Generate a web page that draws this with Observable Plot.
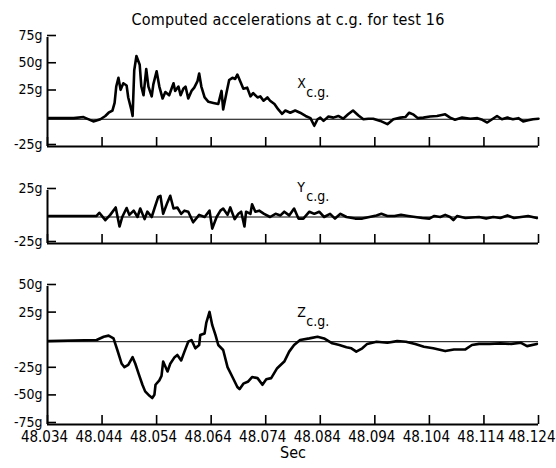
<!DOCTYPE html>
<html><head><meta charset="utf-8">
<script src="https://cdn.jsdelivr.net/npm/d3@7"></script>
<script src="https://cdn.jsdelivr.net/npm/@observablehq/plot@0.6"></script>
<style>
body{margin:0;background:#fff;}
#chart{position:relative;width:556px;height:468px;font-family:"DejaVu Sans Condensed","Liberation Sans Narrow",sans-serif;color:#000;}
#title{position:absolute;left:10px;width:556px;top:10px;text-align:center;font-size:16px;line-height:20px;letter-spacing:0.2px;}
.panel{position:absolute;left:0;}
</style></head><body>
<div id="chart"><div id="title">Computed accelerations at c.g. for test 16</div></div>
<script>
const FONT = '"DejaVu Sans Condensed","Liberation Sans Narrow",sans-serif';
const timeTicks = [48.034, 48.044, 48.054, 48.064, 48.074, 48.084, 48.094, 48.104, 48.114, 48.124];
const xTicksG = [75, 50, 25, -25];
const yTicksG = [25, -25];
const zTicksG = [50, 25, -25, -50, -75];

const xTime = [
48.0342,48.0388,48.0406,48.0424,48.0437,48.0446,48.0452,48.0459,48.0463,48.0466,
48.0470,48.0474,48.0479,48.0485,48.0488,48.0494,48.0496,48.0499,48.0503,48.0509,
48.0512,48.0516,48.0521,48.0525,48.0531,48.0534,48.0540,48.0545,48.0551,48.0556,
48.0563,48.0571,48.0574,48.0580,48.0584,48.0589,48.0593,48.0598,48.0604,48.0609,
48.0615,48.0618,48.0622,48.0628,48.0635,48.0644,48.0653,48.0659,48.0662,48.0668,
48.0673,48.0679,48.0684,48.0688,48.0694,48.0699,48.0706,48.0712,48.0717,48.0725,
48.0730,48.0736,48.0743,48.0748,48.0756,48.0763,48.0770,48.0776,48.0785,48.0794,
48.0803,48.0813,48.0822,48.0829,48.0835,48.0840,48.0846,48.0855,48.0864,48.0873,
48.0882,48.0891,48.0900,48.0910,48.0919,48.0928,48.0937,48.0950,48.0963,48.0974,
48.0987,48.0996,48.1003,48.1010,48.1019,48.1029,48.1041,48.1054,48.1069,48.1078,
48.1087,48.1100,48.1115,48.1128,48.1137,48.1146,48.1155,48.1164,48.1173,48.1183,
48.1193,48.1203,48.1212,48.1221,48.1230,48.1240];
const xAccel = [
1,1,2,-2,0,3,6,8,15,30,
38,27,33,31,20,8,3,45,58,50,
30,22,46,30,21,32,44,30,19,25,
22,33,26,30,22,28,30,19,26,29,
35,42,30,20,16,15,14,26,9,24,
36,38,37,41,34,28,29,21,24,20,
21,17,20,17,14,9,5,8,6,8,
6,3,1,-6,0,1.5,-1.5,2.5,1.5,3,
0.5,4.5,8,3.5,0,0.5,0.5,-1.5,-4.5,0,
1.5,2,6,4.5,1,1.5,2.5,3,4.5,1.5,
-0.5,1.5,0.5,1,-0.5,-3,0,3,0,1.5,
0,1,-2,-1,0,0.5];

const yTime = [
48.0342,48.0430,48.0435,48.0446,48.0455,48.0465,48.0472,48.0477,48.0485,48.0490,
48.0498,48.0505,48.0510,48.0518,48.0523,48.0531,48.0536,48.0543,48.0547,48.0552,
48.0560,48.0565,48.0571,48.0578,48.0585,48.0591,48.0598,48.0607,48.0618,48.0628,
48.0637,48.0642,48.0650,48.0657,48.0662,48.0670,48.0675,48.0683,48.0690,48.0695,
48.0701,48.0704,48.0712,48.0715,48.0721,48.0728,48.0737,48.0748,48.0758,48.0767,
48.0774,48.0783,48.0792,48.0800,48.0809,48.0820,48.0829,48.0838,48.0847,48.0858,
48.0867,48.0877,48.0888,48.0904,48.0917,48.0930,48.0943,48.0952,48.0963,48.0976,
48.0988,48.1001,48.1014,48.1027,48.1040,48.1049,48.1060,48.1069,48.1078,48.1084,
48.1091,48.1106,48.1118,48.1131,48.1144,48.1157,48.1170,48.1183,48.1195,48.1208,
48.1221,48.1237];
const yAccel = [
1,1,4,-3,2,9,-9,0,8.5,2,
6,0,8,-2,5,0,8,19,20,3,
14,20,8,9,3,6,5,-5,2,0,
6,-11,0,6,8,2,9,-2,3,5,
-9,5,3,12,5,6,3,0,3,1.5,
5,1.5,8,-1.5,-1.5,5,3,5,0,3,
-1.5,3,0,-1.5,-1.5,0,1.5,3,1,1,
2,1,0,-1,-1.5,1,0,2,0,-3,
1,-1,-0.5,0,-1.5,0,-1,1.5,-1,0,
1,-1];

const zTime = [
48.0342,48.0430,48.0443,48.0452,48.0461,48.0468,48.0476,48.0481,48.0488,48.0496,
48.0501,48.0507,48.0514,48.0519,48.0527,48.0532,48.0536,48.0538,48.0545,48.0549,
48.0552,48.0560,48.0565,48.0573,48.0578,48.0585,48.0591,48.0598,48.0604,48.0611,
48.0618,48.0620,48.0628,48.0631,48.0637,48.0642,48.0648,48.0653,48.0662,48.0670,
48.0679,48.0688,48.0692,48.0699,48.0708,48.0715,48.0725,48.0734,48.0741,48.0750,
48.0761,48.0774,48.0783,48.0792,48.0803,48.0820,48.0835,48.0847,48.0862,48.0875,
48.0888,48.0897,48.0906,48.0917,48.0926,48.0943,48.0963,48.0981,48.0997,48.1014,
48.1030,48.1047,48.1069,48.1085,48.1106,48.1118,48.1131,48.1150,48.1170,48.1190,
48.1208,48.1219,48.1237];
const zAccel = [
0.5,1.5,4.5,5.5,3,-7.5,-20,-23,-21,-14,
-20,-29,-39,-45,-49,-51,-48,-39,-35,-31,
-18,-27,-20,-14,-12,-17,-9,0,1.5,-6,
-3,6,7.5,17,27,15,6,-3,-7.5,-23,
-32,-41,-43,-38,-36,-32,-33,-39,-34,-33,
-24,-18,-9,-3,1.5,3,4.5,3,-1.5,-3,
-5,-6,-9,-6,-2,0,-1,0.5,0,-2,
-4.5,-6,-8.5,-7,-7,-3,-2,-2,-1.5,-2,
-1,-4,-2];

const seriesNames = ["X", "Y", "Z"];
const subscript = "c.g.";

const fmtG = d => (d < 0 ? "-" : "") + Math.abs(d) + "g";
const fmtT = d3.format(".3f");

function panel(cfg) {
  const data = cfg.time.map((t, i) => ({t, g: cfg.accel[i]}));
  const xDomain = [timeTicks[0], timeTicks[timeTicks.length - 1]];
  const marks = [
    Plot.ruleY([0], {stroke: "#000", strokeWidth: 1}),
    Plot.line(data, {x: "t", y: "g", stroke: "#000", strokeWidth: 2.6, strokeLinejoin: "round", strokeLinecap: "round"}),
    Plot.ruleX([xDomain[0]], {stroke: "#000", strokeWidth: 2}),
    Plot.ruleY([cfg.domain[0]], {stroke: "#000", strokeWidth: 2}),
    Plot.axisY({ticks: cfg.ticks, tickSize: -9, tickPadding: 14, tickFormat: fmtG, fontSize: 14, dy: -2, strokeWidth: 1.6, label: null}),
    Plot.axisX({ticks: timeTicks, tickSize: -9, tickPadding: 14, strokeWidth: 1.6, tickFormat: () => "", label: null}),
    Plot.text([{t: cfg.labelT, g: cfg.labelG, s: cfg.name}], {x: "t", y: "g", text: "s", textAnchor: "start", fontSize: 14}),
    Plot.text([{t: cfg.labelT, g: cfg.labelG, s: subscript}], {x: "t", y: "g", text: "s", textAnchor: "start", fontSize: 14, dx: 9, dy: 9})
  ];
  if (cfg.tickLabels) {
    marks.push(
      Plot.text(timeTicks.slice(0, -1), {x: d => d, frameAnchor: "bottom", lineAnchor: "top", dy: 7, dx: -3,
        text: fmtT, fontSize: 15}),
      Plot.text(timeTicks.slice(-1), {x: d => d, frameAnchor: "bottom", lineAnchor: "top", dy: 7, dx: 17,
        textAnchor: "end", text: fmtT, fontSize: 15})
    );
  }
  if (cfg.xLabel) marks.push(Plot.text([cfg.xLabel], {frameAnchor: "bottom", dy: 33, fontSize: 16}));
  const svg = Plot.plot({
    width: 556, height: cfg.height,
    marginLeft: 47, marginRight: 18, marginTop: cfg.marginTop, marginBottom: cfg.marginBottom,
    style: {fontFamily: FONT, color: "#000", background: "transparent", overflow: "visible"},
    x: {domain: xDomain, label: null},
    y: {domain: cfg.domain, label: null},
    marks
  });
  svg.classList.add("panel");
  svg.style.top = cfg.top + "px";
  document.getElementById("chart").appendChild(svg);
}

panel({time: xTime, accel: xAccel, domain: [-25, 75], ticks: xTicksG, top: 30, height: 135, marginTop: 7, marginBottom: 19,
  name: seriesNames[0], labelT: 48.0798, labelG: 33, tickLabels: false});
panel({time: yTime, accel: yAccel, domain: [-25, 25], ticks: yTicksG, top: 165, height: 95, marginTop: 25, marginBottom: 17,
  name: seriesNames[1], labelT: 48.0798, labelG: 28, tickLabels: false});
panel({time: zTime, accel: zAccel, domain: [-75, 50], ticks: zTicksG, top: 260, height: 208, marginTop: 26, marginBottom: 44,
  name: seriesNames[2], labelT: 48.0798, labelG: 26, tickLabels: true, xLabel: "Sec"});
</script>
</body></html>
